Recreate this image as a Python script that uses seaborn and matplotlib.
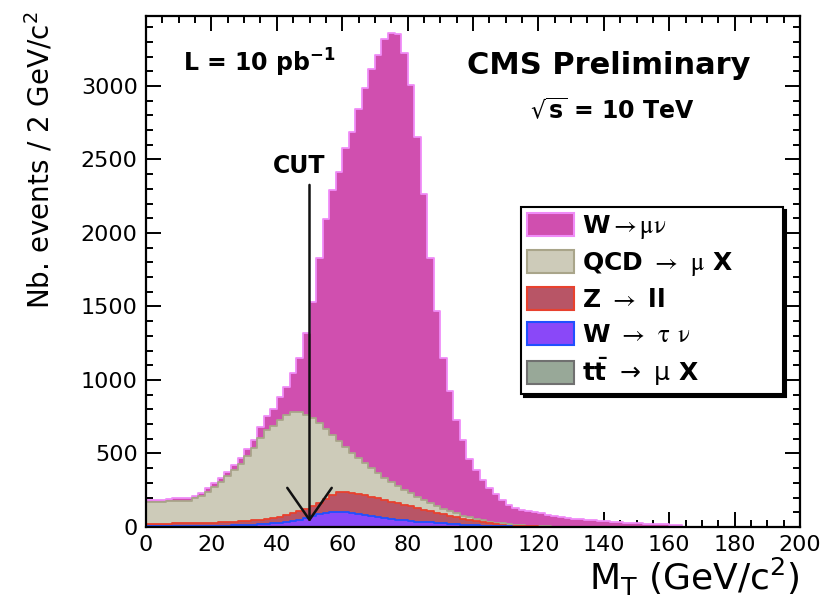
import numpy as np
import pandas as pd
import matplotlib
matplotlib.use("Agg")
import matplotlib.pyplot as plt
import seaborn as sns
from matplotlib.patches import Patch
from matplotlib.ticker import MultipleLocator
from matplotlib.font_manager import FontProperties

# ---------------- data (events per 2 GeV bin, bins starting at 0,2,...,168) ----------------
bin_width = 2
ttbar = [1, 1, 1, 1, 1, 1, 1, 1, 1, 1,
         1, 1, 1, 1, 1, 2, 2, 2, 2, 2,
         2, 2, 2, 2, 2, 3, 3, 3, 3, 3,
         3, 3, 3, 3, 3, 3, 3, 3, 3, 3,
         2, 2, 2, 2, 2, 2, 2, 2, 2, 2,
         1, 1, 1, 1, 1, 1, 1, 1, 1, 1,
         0, 0, 0, 0, 0, 0, 0, 0, 0, 0,
         0, 0, 0, 0, 0, 0, 0, 0, 0, 0,
         0, 0, 0, 0, 0]
wtaunu = [3, 3, 3, 3, 4, 4, 4, 5, 5, 6,
          7, 8, 9, 10, 11, 12, 14, 16, 19, 22,
          26, 31, 38, 48, 60, 71, 83, 93, 99, 101,
          99, 94, 87, 81, 74, 67, 60, 54, 48, 42,
          38, 35, 32, 29, 26, 23, 20, 17, 14, 11,
          10, 8, 6, 5, 4, 3, 2, 2, 1, 1,
          1, 1, 0, 0, 0, 0, 0, 0, 0, 0,
          0, 0, 0, 0, 0, 0, 0, 0, 0, 0,
          0, 0, 0, 0, 0]
zll = [18, 18, 19, 19, 19, 19, 20, 20, 21, 21,
       21, 22, 23, 24, 26, 27, 29, 32, 34, 38,
       42, 47, 52, 56, 60, 68, 80, 96, 114, 132,
       138, 137, 135, 131, 128, 124, 120, 115, 110, 105,
       100, 92, 84, 76, 68, 61, 54, 47, 41, 35,
       29, 23, 18, 13, 9, 6, 5, 3, 3, 2,
       2, 1, 1, 1, 1, 0, 0, 0, 0, 0,
       0, 0, 0, 0, 0, 0, 0, 0, 0, 0,
       0, 0, 0, 0, 0]
qcd = [148, 148, 148, 153, 154, 155, 155, 170, 181, 210,
       243, 275, 312, 350, 392, 444, 495, 555, 605, 628,
       658, 680, 692, 674, 643, 598, 539, 473, 409, 349,
       305, 271, 243, 217, 193, 171, 151, 133, 117, 102,
       88, 76, 64, 53, 44, 36, 30, 26, 21, 18,
       15, 13, 12, 11, 10, 9, 7, 6, 5, 4,
       3, 3, 2, 2, 1, 2, 1, 1, 0, 0,
       0, 0, 0, 0, 0, 0, 0, 0, 0, 0,
       0, 0, 0, 0, 0]
wmunu = [15, 15, 16, 17, 17, 17, 17, 16, 20, 24,
         28, 30, 32, 35, 40, 45, 55, 72, 92, 115,
         155, 195, 262, 368, 552, 793, 1123, 1428, 1668, 1832,
         2035, 2184, 2373, 2552, 2715, 2846, 2984, 3058, 3076, 2975,
         2779, 2446, 2083, 1668, 1332, 1026, 820, 639, 511, 396,
         333, 277, 231, 194, 160, 134, 116, 103, 98, 92,
         86, 79, 72, 65, 60, 55, 51, 47, 45, 42,
         38, 35, 32, 29, 27, 25, 23, 21, 19, 18,
         17, 16, 0, 0, 0]

labels = [r"W$\rightarrow\mathrm{\mu\nu}$",
          r"QCD $\rightarrow$ $\mathrm{\mu}$ X",
          r"Z $\rightarrow$ ll",
          r"W $\rightarrow$ $\mathrm{\tau}$ $\mathrm{\nu}$",
          r"$\mathbf{t\bar{t}}$ $\rightarrow$ $\mathrm{\mu}$ X"]
face_colors = ["#D04FAF", "#CDCBB9", "#B85566", "#8A48F8", "#98A898"]
edge_colors = ["#F08CF8", "#A9A58A", "#E8412E", "#2050FF", "#707070"]

cut_value = 50
x_ticks_major, x_ticks_minor = 20, 5
y_ticks_major, y_ticks_minor = 500, 100

# ---------------- style ----------------
sns.set_style("white")
plt.rcParams["font.family"] = ["DejaVu Sans"]
plt.rcParams["mathtext.fontset"] = "dejavusans"
plt.rcParams["text.color"] = "black"
plt.rcParams["axes.labelcolor"] = "black"
plt.rcParams["xtick.color"] = "black"
plt.rcParams["ytick.color"] = "black"

fig = plt.figure(figsize=(8.33, 5.98), dpi=100)
ax = fig.add_axes([146 / 833, 1 - 527 / 598, 654 / 833, 511 / 598])

n = len(wmunu)
centers = np.arange(n) * bin_width + bin_width / 2

# stack: bottom -> top
stack = np.vstack([ttbar, wtaunu, zll, qcd, wmunu]).astype(float)
cum = np.cumsum(stack, axis=0)
# draw from the top layer down (ROOT THStack style)
for k in [4, 3, 2, 1, 0]:
    leg_idx = 4 - k
    df = pd.DataFrame({"mt": centers, "w": cum[k]})
    sns.histplot(data=df, x="mt", weights="w", binwidth=bin_width,
                 binrange=(0, n * bin_width), element="step",
                 fill=True, color=face_colors[leg_idx],
                 edgecolor=edge_colors[leg_idx], linewidth=1.3, alpha=1,
                 ax=ax)

ax.set_xlim(0, 200)
ax.set_ylim(0, 3476)

# ticks
ax.xaxis.set_major_locator(MultipleLocator(x_ticks_major))
ax.xaxis.set_minor_locator(MultipleLocator(x_ticks_minor))
ax.yaxis.set_major_locator(MultipleLocator(y_ticks_major))
ax.yaxis.set_minor_locator(MultipleLocator(y_ticks_minor))
ax.tick_params(which="both", direction="in", top=True, right=True,
               bottom=True, left=True, width=1.4, color="black",
               labelcolor="black")
ax.tick_params(which="major", length=10.5, labelsize=16, pad=6)
ax.tick_params(which="minor", length=5.2)
for s in ax.spines.values():
    s.set_linewidth(1.6)
    s.set_color("black")
    s.set_zorder(5)

ax.set_ylabel(r"Nb. events / 2 GeV/c$^{2}$", fontsize=20, loc="top",
              color="black")
ax.yaxis.set_label_coords(-0.139, 1.0098)
ax.set_xlabel(r"M$_{\mathrm{T}}$ (GeV/c$^{2}$)", fontsize=26, loc="right",
              color="black")
ax.xaxis.set_label_coords(1.0, -0.056)

def axfrac(px, py):
    return ((px - 146) / 654, (527 - py) / 511)

# annotations
ax.text(*axfrac(183, 63), r"L = 10 pb$^{\mathbf{-1}}$", fontsize=17,
        fontweight="bold", ha="left", va="center", transform=ax.transAxes)
ax.text(*axfrac(467, 65), "CMS Preliminary", fontsize=22,
        fontweight="bold", ha="left", va="center", transform=ax.transAxes)
ax.text(*axfrac(530, 111), r"$\sqrt{\mathbf{s}}$ = 10 TeV", fontsize=17,
        fontweight="bold", ha="left", va="center", transform=ax.transAxes)
ax.text(*axfrac(299, 166), "CUT", fontsize=17, fontweight="bold",
        ha="center", va="center", transform=ax.transAxes)
ax.annotate("", xy=(cut_value, 34), xytext=(cut_value, 2327),
            arrowprops=dict(arrowstyle="->,head_length=1.15,head_width=0.8",
                            lw=1.8, color="#111111", mutation_scale=20,
                            shrinkA=0, shrinkB=0),
            zorder=6)

# legend
handles = [Patch(facecolor=fc, edgecolor=ec, linewidth=1.5)
           for fc, ec in zip(face_colors, edge_colors)]
prop = FontProperties(family="DejaVu Sans", weight="bold", size=18,
                      math_fontfamily="stix")
x0, y0 = axfrac(521, 393)
x1, y1 = axfrac(783, 207)
leg = ax.legend(handles, labels, prop=prop, loc="upper left",
                bbox_to_anchor=(x0, y0, x1 - x0, y1 - y0), mode="expand",
                frameon=True, fancybox=False, shadow={"color": "black", "alpha": 1},
                borderpad=0.22, labelspacing=0.37, handlelength=1.9,
                handleheight=1.05, handletextpad=0.3, borderaxespad=0)
leg.get_frame().set_edgecolor("black")
leg.get_frame().set_linewidth(1.5)
leg.get_texts()[4].set_math_fontfamily("dejavusans")
for t in leg.get_texts():
    t.set_color("black")
leg.set_zorder(7)

fig.savefig("out.png", dpi=100)
